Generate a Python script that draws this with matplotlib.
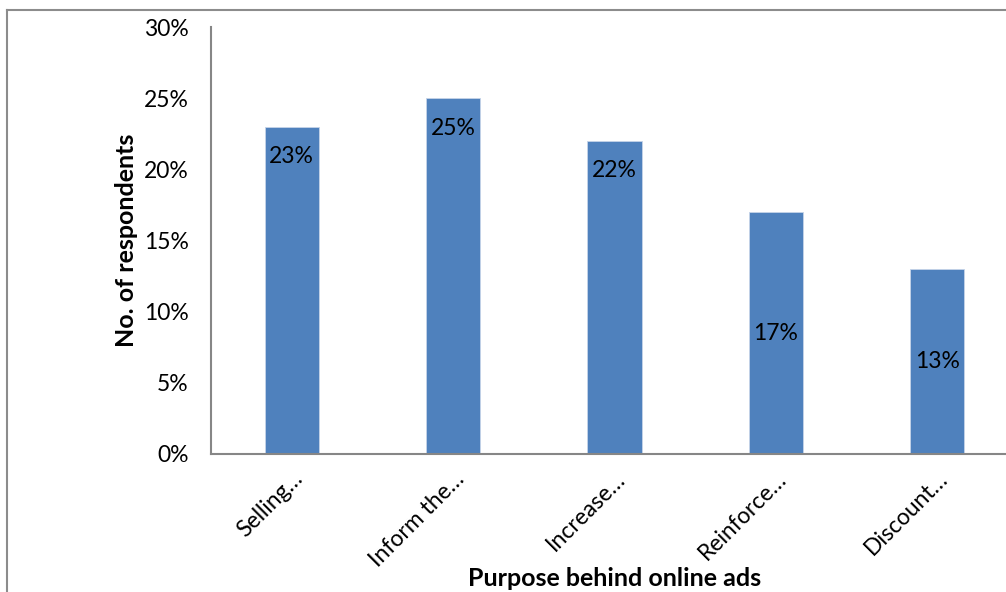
import matplotlib.pyplot as plt
from matplotlib.lines import Line2D
import numpy as np

plt.rcParams["font.family"] = ["Lato", "DejaVu Sans"]

categories = ["Selling…", "Inform the…", "Increase…", "Reinforce…", "Discount…"]
shares = [23, 25, 22, 17, 13]
label_pos = ["inside_end", "inside_end", "inside_end", "center", "center"]
y_ticks = [0, 5, 10, 15, 20, 25, 30]

W, H = 1006, 592
fig = plt.figure(figsize=(W / 100, H / 100), dpi=100)

# plot area in pixel terms, right side runs past the canvas
left, right, top, bottom = 211, 1018, 27, 454
ax = fig.add_axes([left / W, 1 - bottom / H, (right - left) / W, (bottom - top) / H])

x = np.arange(len(categories))
ax.bar(x, shares, width=0.335, color="#4F81BD", edgecolor="#C6D4E8", linewidth=0.6, zorder=2)

ax.set_xlim(-0.5, len(categories) - 0.5)
ax.set_ylim(0, 30)
ax.set_yticks(y_ticks)
ax.set_yticklabels([f"{t}%" for t in y_ticks], fontsize=16.5)
ax.set_xticks(x)
ax.set_xticklabels(categories, fontsize=16.5, rotation=45, ha="right", rotation_mode="anchor")
ax.tick_params(length=0, pad=10)
ax.tick_params(axis="y", pad=16)

for side in ("top", "right"):
    ax.spines[side].set_visible(False)
for side in ("left", "bottom"):
    ax.spines[side].set_color("#868686")
    ax.spines[side].set_linewidth(1.5)

for xi, v, pos in zip(x, shares, label_pos):
    yy = v - 2.1 if pos == "inside_end" else v / 2
    ax.text(xi, yy, f"{v}%", ha="center", va="center", fontsize=16.5, color="black", zorder=3)

ax.set_ylabel("No. of respondents", fontsize=18, fontweight="bold", labelpad=4)
fig.text(615 / W, 1 - 579 / H, "Purpose behind online ads", fontsize=18,
         fontweight="bold", ha="center", va="center")

# outer chart frame (left and top edges)
fig.add_artist(Line2D([7 / W, 7 / W], [1 - 10 / H, 0], transform=fig.transFigure,
                      color="#8C8C8C", linewidth=1.5))
fig.add_artist(Line2D([7 / W, 1], [1 - 10 / H, 1 - 10 / H], transform=fig.transFigure,
                      color="#8C8C8C", linewidth=1.5))

fig.savefig("out.png", dpi=100)
